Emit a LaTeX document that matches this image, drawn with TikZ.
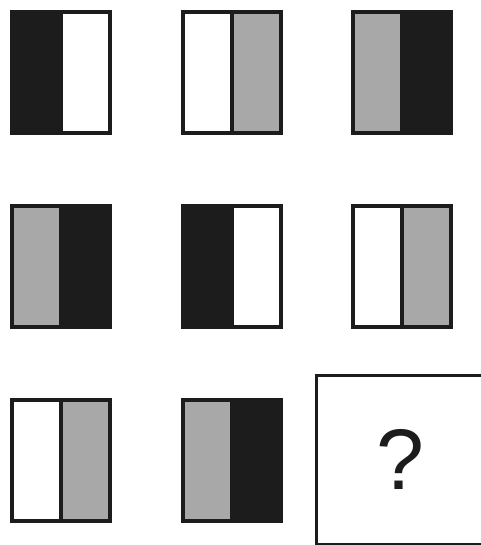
\documentclass[tikz,border=0pt]{standalone}
\usepackage{fontspec}
\setsansfont{Liberation Sans}
\usepackage{tikz}
\usepackage{xcolor}
\definecolor{ink}{HTML}{1C1C1C}
\definecolor{midgray}{HTML}{A8A8A8}

\begin{document}
\begin{tikzpicture}[
    x=1pt, y=-1pt,
    half/.style={draw=ink, line width=4pt, minimum width=49pt, minimum height=121pt, inner sep=0pt, anchor=north west},
    dark/.style={half, fill=ink},
    light/.style={half, fill=white},
    grey/.style={half, fill=midgray},
    answer/.style={draw=ink, line width=3pt, minimum width=169pt, minimum height=169pt, inner sep=0pt, anchor=north west}
]
\useasboundingbox (0, 0) rectangle (480, 545);

% row 1
\node[dark]  (r1c1l) at (10, 10) {};
\node[light] (r1c1r) at (59, 10) {};
\node[light] (r1c2l) at (181, 10) {};
\node[grey]  (r1c2r) at (230, 10) {};
\node[grey]  (r1c3l) at (351, 10) {};
\node[dark]  (r1c3r) at (400, 10) {};

% row 2
\node[grey]  (r2c1l) at (10, 204) {};
\node[dark]  (r2c1r) at (59, 204) {};
\node[dark]  (r2c2l) at (181, 204) {};
\node[light] (r2c2r) at (230, 204) {};
\node[light] (r2c3l) at (351, 204) {};
\node[grey]  (r2c3r) at (400, 204) {};

% row 3
\node[light] (r3c1l) at (10, 398) {};
\node[grey]  (r3c1r) at (59, 398) {};
\node[grey]  (r3c2l) at (181, 398) {};
\node[dark]  (r3c2r) at (230, 398) {};

% missing panel
\node[answer] (missing) at (314.5, 373.5) {};
\node[font=\sffamily\fontsize{86}{86}\selectfont, text=ink, inner sep=0pt] (qmark) at (400, 459) {?};
\end{tikzpicture}
\end{document}
